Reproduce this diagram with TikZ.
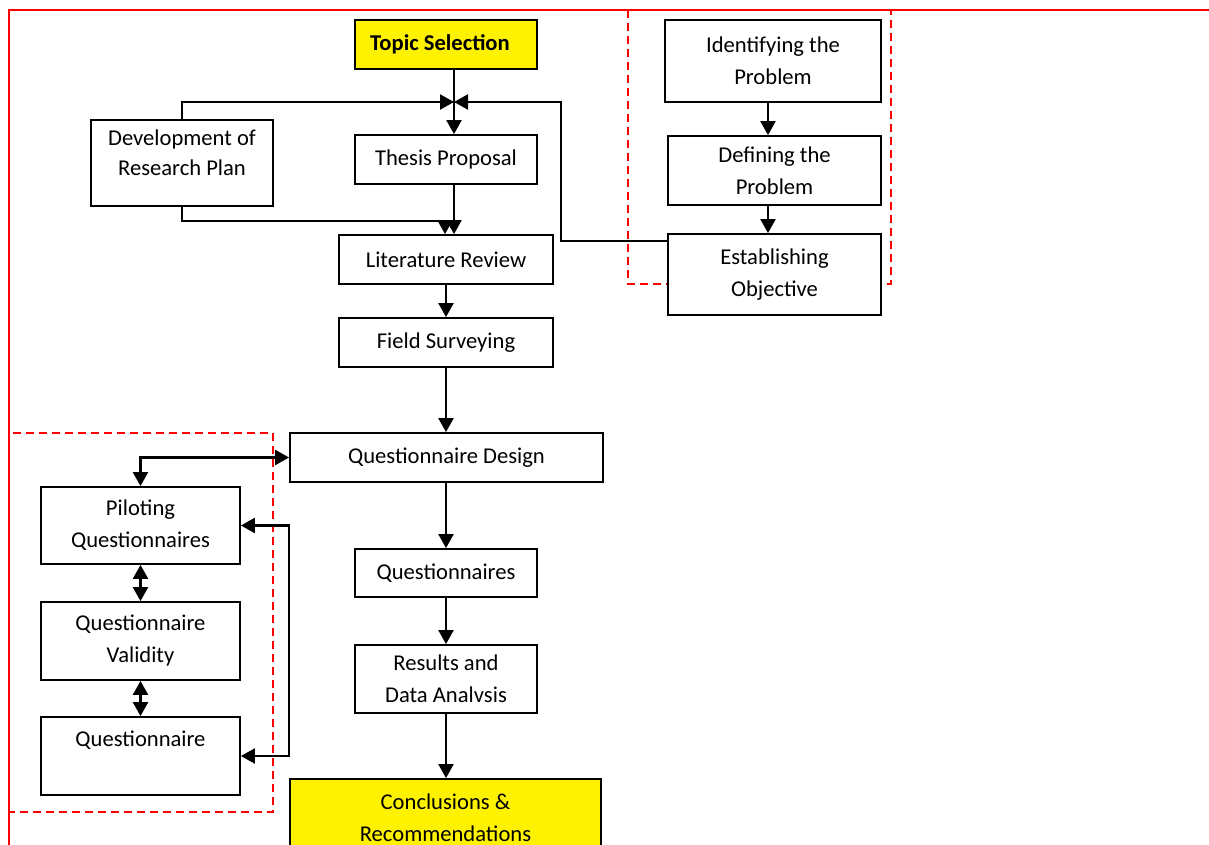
\documentclass[tikz,border=0pt]{standalone}
\usepackage{fontspec}
\setmainfont{Carlito}
\usetikzlibrary{arrows.meta,calc}
\begin{document}
\begin{tikzpicture}[x=0.5pt,y=-0.5pt,
  box/.style={draw, line width=0.9pt, fill=white, align=center, inner sep=0pt,
    font=\fontsize{11.3}{16}\selectfont},
  sz/.style 2 args={minimum width=#1*0.5pt, minimum height=#2*0.5pt},
  hi/.style={fill=yellow},
  arr/.style={-{Triangle[length=7pt,width=7.5pt]}, line width=1.1pt},
  darr/.style={{Triangle[length=7pt,width=7.5pt]}-{Triangle[length=7pt,width=7.5pt]}, line width=1.1pt},
  reddash/.style={draw=red, line width=0.8pt, dash pattern=on 4pt off 2.5pt},
  frame/.style={draw=red, line width=1pt}]
\useasboundingbox (0,0) rectangle (1209,845);
\clip (0,0) rectangle (1209,845);
% frames
\draw[frame] (9,845) -- (9,10) -- (1209,10);
\draw[reddash] (628,10) rectangle (891,284);
\draw[reddash] (9,433) rectangle (273,812);
% nodes
\node[box,hi,sz={182}{49},font=\fontsize{11.3}{16}\selectfont\bfseries] (topic) at (446,44.5) {Topic Selection\hspace{6pt}};
\node[box,sz={182}{86}] (drp) at (182,163) {Development of\\[-1pt]Research Plan\\[-10pt]\strut};
\node[box,sz={182}{49}] (thesis) at (446,159.5) {Thesis Proposal};
\node[box,sz={214}{49}] (lit) at (446,259.5) {Literature Review};
\node[box,sz={214}{49}] (field) at (446,342.5) {Field Surveying};
\node[box,sz={313}{49}] (qd) at (446.5,457.5) {Questionnaire Design};
\node[box,sz={182}{48}] (qs) at (446,573) {Questionnaires};
\node[box,sz={182}{68}] (res) at (446,679) {Results and\\Data Analvsis};
\node[box,hi,sz={311}{78}] (conc) at (445.5,818) {Conclusions \&\\Recommendations};
\node[box,sz={216}{82}] (ident) at (773,61) {Identifying the\\Problem};
\node[box,sz={213}{69}] (def) at (774.5,170.5) {Defining the\\Problem};
\node[box,sz={213}{81}] (est) at (774.5,274.5) {Establishing\\Objective};
\node[box,sz={199}{77}] (pilot) at (140.5,525.5) {Piloting\\Questionnaires};
\node[box,sz={199}{78}] (valid) at (140.5,641) {Questionnaire\\Validity};
\node[box,sz={199}{78}] (quest) at (140.5,756) {Questionnaire\\[-3pt]\strut};
% coordinates
\coordinate (j) at (454,102);
\coordinate (k) at (561,102);
\coordinate (rx) at (768,0);
\coordinate (e1) at ($(est.north west)+(0,8)$);
% connectors
\draw[arr] (topic.south -| j) -- (thesis.north -| j);
\draw[arr] (drp.north) |- (j);
\draw[arr] (e1) -| (k) -- (j);
\draw[arr] (thesis.south -| j) -- (lit.north -| j);
\draw[arr] (drp.south) -- ++(0,14) -| ($(lit.north)+(-1,0)$);
\draw[arr] (lit.south) -- (field.north);
\draw[arr] (field.south) -- (qd.north -| field.south);
\draw[darr] (pilot.north) |- (qd.west);
\draw[arr] (qd.south -| qs.north) -- (qs.north);
\draw[arr] (qs.south) -- (res.north);
\draw[arr] (res.south) -- (conc.north -| res.south);
\draw[darr] (pilot.south) -- (valid.north);
\draw[darr] (valid.south) -- (quest.north);
\draw[darr] (pilot.east) -- ++(48,0) |- (quest.east);
\draw[arr] (ident.south -| rx) -- (def.north -| rx);
\draw[arr] (def.south -| rx) -- (est.north -| rx);
\end{tikzpicture}
\end{document}
